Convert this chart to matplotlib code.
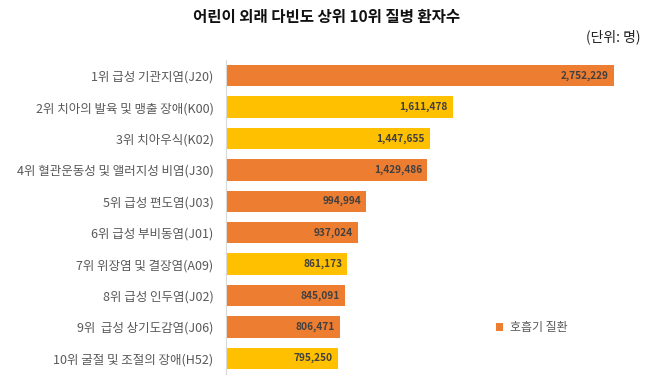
import matplotlib
matplotlib.use("Agg")
import matplotlib.pyplot as plt
import numpy as np

plt.rcParams['font.family'] = ['Noto Sans CJK KR', 'DejaVu Sans']

# data
diseases = [
    "1위 급성 기관지염(J20)",
    "2위 치아의 발육 및 맹출 장애(K00)",
    "3위 치아우식(K02)",
    "4위 혈관운동성 및 앨러지성 비염(J30)",
    "5위 급성 편도염(J03)",
    "6위 급성 부비동염(J01)",
    "7위 위장염 및 결장염(A09)",
    "8위 급성 인두염(J02)",
    "9위  급성 상기도감염(J06)",
    "10위 굴절 및 조절의 장애(H52)",
]
patients = [2752229, 1611478, 1447655, 1429486, 994994,
            937024, 861173, 845091, 806471, 795250]
respiratory = [True, False, False, True, True, True, False, True, True, False]

ORANGE = "#ED7D31"
YELLOW = "#FFC000"

fig = plt.figure(figsize=(6.5, 3.78), dpi=100)
ax = fig.add_axes([226 / 650, 1 - 374 / 378, 414 / 650, 314 / 378])

y = np.arange(len(diseases))
vals = np.array(patients)
resp = np.array(respiratory)

ax.barh(y[resp], vals[resp], height=0.68, color=ORANGE, label="호흡기 질환")
ax.barh(y[~resp], vals[~resp], height=0.68, color=YELLOW)

for yi, v in zip(y, vals):
    ax.text(v - 35000, yi, f"{v:,}", ha="right", va="center",
            fontsize=7.3, fontweight="bold", color="#404040")

ax.set_yticks(y)
ax.set_yticklabels(diseases, fontsize=9, color="#595959")
ax.set_ylim(len(diseases) - 0.5, -0.5)
ax.set_xlim(0, 2.94e6)
ax.set_xticks([])
ax.tick_params(axis="y", length=0, pad=9)
for s in ["top", "right", "bottom"]:
    ax.spines[s].set_visible(False)
ax.spines["left"].set_color("#D9D9D9")
ax.spines["left"].set_linewidth(0.8)

leg = ax.legend(loc="center left", bbox_to_anchor=(0.625, 0.148), frameon=False,
                fontsize=8.6, handlelength=0.6, handleheight=0.6, handletextpad=0.6)
for t in leg.get_texts():
    t.set_color("#595959")

fig.text(0.503, 1 - 17 / 378, "어린이 외래 다빈도 상위 10위 질병 환자수",
         ha="center", va="center", fontsize=11.2, fontweight="bold", color="#111111")
fig.text(0.985, 1 - 37 / 378, "(단위: 명)", ha="right", va="center",
         fontsize=10, color="#222222")

fig.savefig("out.png", dpi=100)
